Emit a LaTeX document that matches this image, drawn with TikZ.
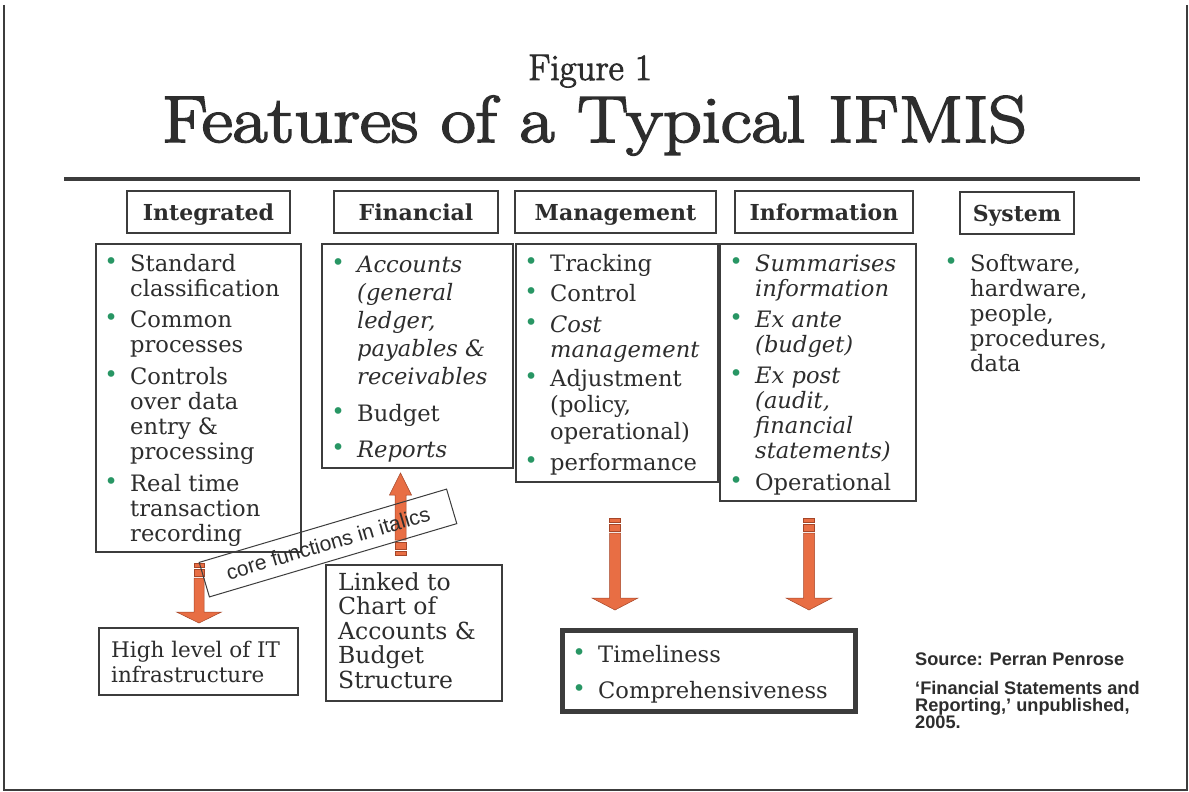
\documentclass[tikz,border=0pt]{standalone}
\usepackage{fontspec}
\newfontfamily\bodyserif{DejaVu Serif}
\newfontfamily\arialsans{Liberation Sans}
\newfontfamily\titlefont{Latin Modern Roman}[FakeBold=2.5]

\definecolor{ink}{RGB}{45,45,45}
\definecolor{rulegray}{RGB}{60,60,60}
\definecolor{bulgreen}{RGB}{40,150,100}
\definecolor{arroworange}{RGB}{232,110,68}
\definecolor{arrowedge}{RGB}{165,70,40}

\newcommand\bodysize{\fontsize{22.6}{25}\selectfont}
% fixed first-row height, so a list node's top lies 20pt above its first baseline
\newcommand\topline{\rule{0pt}{20pt}}
% green bullet hung 19pt left of the item text
\newcommand\bul{\leavevmode\llap{\makebox[0pt]{\raisebox{1.5pt}{\textcolor{bulgreen}{\fontsize{23}{23}\selectfont\textbullet}}}\hspace{19pt}}}

% block arrow with two stripes at its tail:
% #1 x of axis, #2 y of tail, #3 y of head base, #4 y of tip, #5 half shaft, #6 half head
\newcommand\stripedarrow[6]{%
  \pgfmathsetmacro\adir{(#4>#2)?1:-1}%
  \path[arrowbody] ({#1-#5},{#2}) rectangle ({#1+#5},{#2+4*\adir});
  \path[arrowbody] ({#1-#5},{#2+6*\adir}) rectangle ({#1+#5},{#2+13*\adir});
  \path[arrowbody] ({#1-#5},{#2+15*\adir}) -- ({#1-#5},{#3}) -- ({#1-#6},{#3})
     -- ({#1},{#4}) -- ({#1+#6},{#3}) -- ({#1+#5},{#3}) -- ({#1+#5},{#2+15*\adir}) -- cycle;
}

\tikzset{
  headbox/.style={draw=rulegray, line width=1.5pt, inner sep=0pt, outer sep=0pt,
    text=ink, text height=17pt, text depth=1pt,
    font=\bodyserif\bfseries\fontsize{22}{24}\selectfont},
  listbox/.style={draw=rulegray, line width=1.2pt, inner sep=0pt, outer sep=0pt, anchor=north west},
  listtext/.style={anchor=north west, yshift=20pt, inner sep=0pt, align=left, text=ink, font=\bodyserif\bodysize},
  arrowbody/.style={fill=arroworange, draw=arrowedge, line width=0.5pt},
}

\begin{document}
\begin{tikzpicture}[x=1pt,y=-1pt]
\useasboundingbox (0,0) rectangle (1189,792);
\fill[white] (0,0) rectangle (1189,792);

% page frame
\draw[rulegray, line width=1.6pt] (4,5) -- (4,790) -- (1187,790) -- (1187,5);

% headings
\node[anchor=base, inner sep=0pt, text=ink, font=\titlefont\fontsize{37}{37}\selectfont] (fig) at (590,80) {Figure 1};
\node[anchor=base, inner sep=0pt, text=ink, font=\titlefont\fontsize{66}{66}\selectfont] (title) at (594.5,142)
  {\scalebox{1.15}[1]{Features of a Typical IFMIS}};
\draw[rulegray, line width=4pt] (64,179) -- (1140,179);

% column heads
\node[headbox, minimum width=163pt, minimum height=42pt] (hInt) at (208.5,212) {Integrated};
\node[headbox, minimum width=164pt, minimum height=42pt] (hFin) at (416,212) {Financial};
\node[headbox, minimum width=201pt, minimum height=42pt] (hMan) at (615.5,212) {Management};
\node[headbox, minimum width=178pt, minimum height=42pt] (hInf) at (824,212) {Information};
\node[headbox, minimum width=114pt, minimum height=42pt] (hSys) at (1017,213) {System};

% column contents
\node[listbox, minimum width=205pt, minimum height=308pt] (bInt) at (96,244) {};
\node[listbox, minimum width=191pt, minimum height=224pt] (bFin) at (322,244) {};
\node[listbox, minimum width=202pt, minimum height=238pt] (bMan) at (516,244) {};
\node[listbox, minimum width=196pt, minimum height=257pt] (bInf) at (720,244) {};

\node[listtext] (tInt) at (130,271) {\topline\bul Standard\\classification\\[6pt]\bul Common\\processes\\[7pt]%
  \bul Controls\\over data\\entry \&\\processing\\[7pt]\bul Real time\\transaction\\recording};
\node[listtext] (tFin) at (357,272) {\topline\bul\textit{Accounts}\\[3pt]\textit{(general}\\[3pt]\textit{ledger,}\\[3pt]%
  \textit{payables \&}\\[3pt]\textit{receivables}\\[12pt]\bul Budget\\[11pt]\bul\textit{Reports}};
\node[listtext] (tMan) at (550,271) {\topline\bul Tracking\\[5pt]\bul Control\\[6pt]\bul\textit{Cost}\\\textit{management}\\[4pt]%
  \bul Adjustment\\[1pt](policy,\\[2pt]operational)\\[6pt]\bul performance};
\node[listtext] (tInf) at (755,271) {\topline\bul\textit{Summarises}\\\textit{information}\\[6pt]\bul\textit{Ex ante}\\\textit{(budget)}\\[6pt]%
  \bul\textit{Ex post}\\\textit{(audit,}\\\textit{financial}\\\textit{statements)}\\[7pt]\bul Operational};
\node[listtext] (tSys) at (970,271) {\topline\bul Software,\\hardware,\\people,\\procedures,\\data};

% arrows between the columns and the boxes below
\stripedarrow{199}{563}{612}{623}{5}{22.5}
\stripedarrow{400.5}{555}{495}{473}{5.5}{11}
\stripedarrow{615}{518}{598}{610}{5.5}{23}
\stripedarrow{809}{518}{598}{610}{5.5}{23}

% lower boxes
\node[listbox, minimum width=199pt, minimum height=67pt] (bIT) at (99,628) {};
\node[listtext, font=\bodyserif\fontsize{21.5}{25}\selectfont] (tIT) at (111,657) {\topline High level of IT\\infrastructure};
\node[listbox, minimum width=176pt, minimum height=136pt] (bChart) at (326,565) {};
\node[listtext, font=\bodyserif\fontsize{23.5}{24.5}\selectfont] (tChart) at (338,590) {\topline Linked to\\Chart of\\Accounts \&\\Budget\\Structure};
\node[listbox, line width=5pt, minimum width=293pt, minimum height=81pt] (bOut) at (562.5,630.5) {};
\node[listtext] (tOut) at (598,662) {\topline\bul Timeliness\\[11pt]\bul Comprehensiveness};

% slanted note
\node[draw=rulegray, line width=1pt, rotate=16.5, minimum width=258pt, minimum height=36pt, inner sep=0pt,
  text=ink, font=\arialsans\fontsize{21}{21}\selectfont] (core) at (328,543) {core functions in italics};

% source
\node[listtext, font=\arialsans\bfseries\fontsize{18.2}{17}\selectfont] (src) at (915,665)
  {\topline Source: Perran Penrose\\[12pt]‘Financial Statements and\\Reporting,’ unpublished,\\2005.};
\end{tikzpicture}
\end{document}
